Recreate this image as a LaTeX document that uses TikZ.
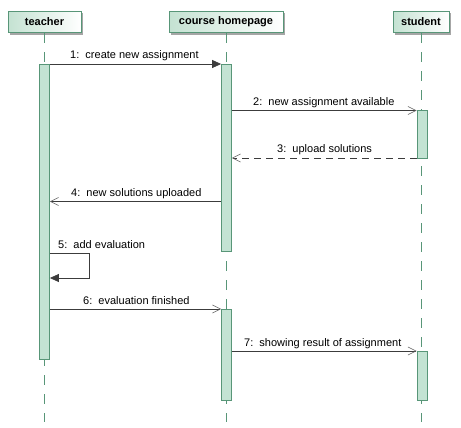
\documentclass[tikz,border=0pt]{standalone}
\usepackage{fontspec}
\setmainfont{Liberation Sans}
\usetikzlibrary{arrows.meta,shadows}
\definecolor{lgreen}{RGB}{88,150,120}
\definecolor{hgreen}{RGB}{196,226,210}
\definecolor{actfill}{RGB}{195,227,211}
\definecolor{msgcol}{RGB}{60,60,60}
\definecolor{tipcol}{RGB}{95,95,95}
\begin{document}
\begin{tikzpicture}[x=1pt,y=-1pt,
  head/.style={draw=lgreen, line width=0.8pt, left color=hgreen, right color=white,
    minimum height=21.5pt, inner sep=0pt,
    font=\fontsize{11}{13}\selectfont\bfseries,
    drop shadow={shadow xshift=2pt, shadow yshift=-2pt, fill=black!35, opacity=1}},
  life/.style={draw=lgreen, line width=0.8pt, dash pattern=on 10pt off 9pt},
  act/.style={draw=lgreen, fill=actfill, line width=0.8pt, minimum width=10pt, inner sep=0pt},
  msg/.style={draw=msgcol, line width=0.7pt},
  filltip/.style={-{Triangle[length=9pt,width=8pt,fill=msgcol]}},
  opentip/.style={-{Straight Barb[length=8pt,width=8pt,line width=0.6pt,color=tipcol]}},
  lbl/.style={anchor=base west, inner sep=0pt, font=\fontsize{11}{13}\selectfont}]
\useasboundingbox (0,0) rectangle (461,428);
\fill[white] (0,0) rectangle (461,428);
% lifelines
\coordinate (tEnd) at (44.5,422);
\coordinate (cEnd) at (226.5,422);
\coordinate (sEnd) at (421.5,422);
\node[head, minimum width=73pt] (teacher) at (44.5,22) {teacher};
\node[head, minimum width=114pt] (course) at (226,22) {course homepage};
\node[head, minimum width=56pt] (student) at (421,22) {student};
\draw[life] (teacher.south -| tEnd) -- (tEnd);
\draw[life] (course.south -| cEnd) -- (cEnd);
\draw[life] (student.south -| sEnd) -- (sEnd);
% activations
\node[act, minimum height=295pt] (tA) at (44.5,211.5) {};
\node[act, minimum height=187pt] (cA) at (226.5,157.5) {};
\node[act, minimum height=91pt] (cB) at (226.5,354.5) {};
\node[act, minimum height=48pt] (sA) at (422,134) {};
\node[act, minimum height=49pt] (sB) at (422,375.5) {};
% messages
\coordinate (y1) at (0,64);
\coordinate (y2) at (0,110.5);
\coordinate (y3) at (0,158);
\coordinate (y4) at (0,201.5);
\coordinate (y5a) at (0,253);
\coordinate (y5b) at (0,278);
\coordinate (y6) at (0,309);
\coordinate (y7) at (0,351);
\coordinate (x5) at (89.5,0);
\draw[msg, filltip] (tA.east |- y1) -- (cA.west |- y1);
\draw[msg, opentip] (cA.east |- y2) -- (sA.west |- y2);
\draw[msg, opentip, dash pattern=on 7pt off 5pt] (sA.west |- y3) -- (cA.east |- y3);
\draw[msg, opentip] (cA.west |- y4) -- (tA.east |- y4);
\draw[msg, filltip] (tA.east |- y5a) -- (x5 |- y5a) -- (x5 |- y5b) -- (tA.east |- y5b);
\draw[msg, opentip] (tA.east |- y6) -- (cB.west |- y6);
\draw[msg, opentip] (cB.east |- y7) -- (sB.west |- y7);
% labels
\node[lbl] (l1) at (70,59) {1:\ \ create new assignment};
\node[lbl] (l2) at (253,105.5) {2:\ \ new assignment available};
\node[lbl] (l3) at (277,153) {3:\ \ upload solutions};
\node[lbl] (l4) at (71,196.5) {4:\ \ new solutions uploaded};
\node[lbl] (l5) at (58,248) {5:\ \ add evaluation};
\node[lbl] (l6) at (83,304) {6:\ \ evaluation finished};
\node[lbl] (l7) at (244,346) {7:\ \ showing result of assignment};
\end{tikzpicture}
\end{document}
